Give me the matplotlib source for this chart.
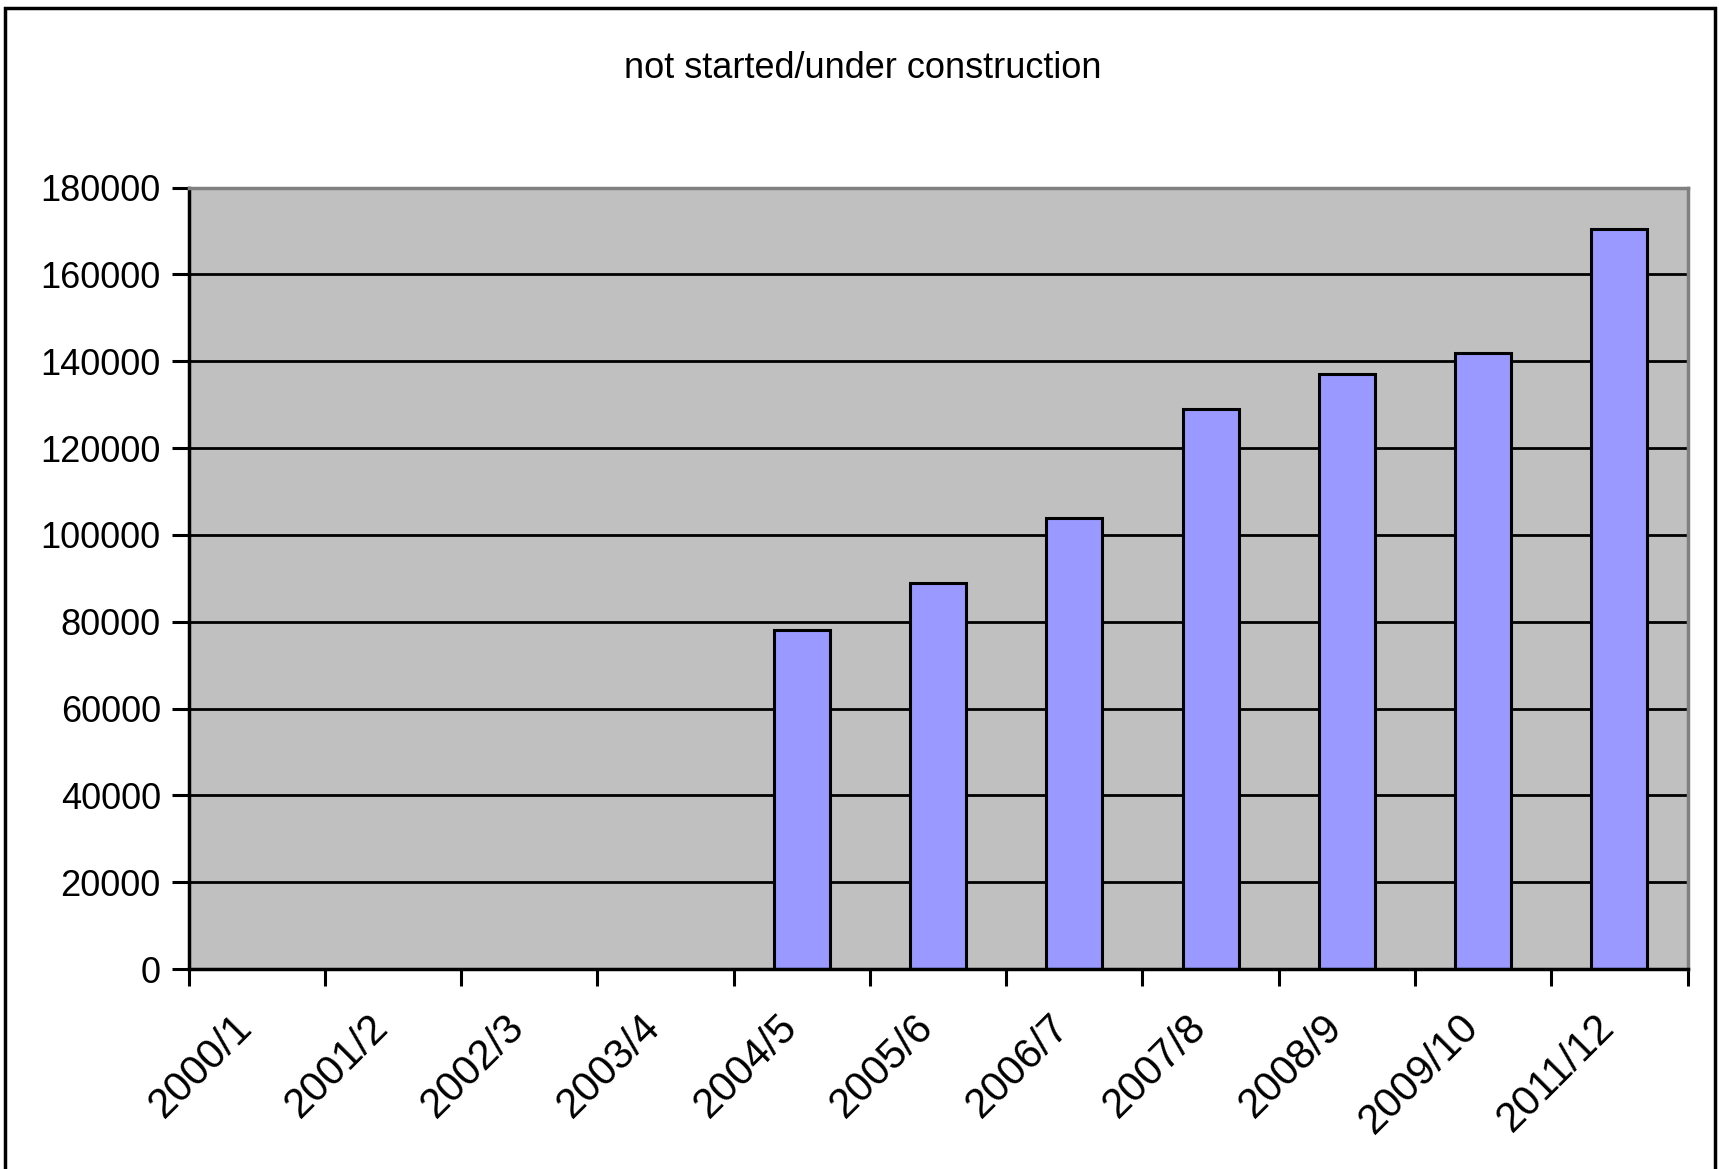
import matplotlib
matplotlib.use("Agg")
import matplotlib.pyplot as plt
import matplotlib.patches as mpatches
import matplotlib.transforms as mtransforms
import numpy as np

plt.rcParams['font.family'] = ['Liberation Sans', 'DejaVu Sans']

# chart data
years = ['2000/1', '2001/2', '2002/3', '2003/4', '2004/5', '2005/6',
         '2006/7', '2007/8', '2008/9', '2009/10', '2011/12']
counts = [None, None, None, None, 78000, 89000, 104000, 129000, 137000, 142000, 170400]
title = 'not started/under construction'
y_ticks = [0, 20000, 40000, 60000, 80000, 100000, 120000, 140000, 160000, 180000]

fig = plt.figure(figsize=(17.19, 11.69), dpi=100)
ax = fig.add_axes([0.1097, 0.171, 0.872, 0.6686])

x = np.arange(len(years))
shown = [i for i, v in enumerate(counts) if v is not None]
ax.bar([x[i] for i in shown], [counts[i] for i in shown], width=0.41,
       color='#9999FF', edgecolor='black', linewidth=2.2, zorder=3)

ax.set_facecolor('#C0C0C0')
ax.set_xlim(-0.5, len(years) - 0.5)
ax.set_ylim(0, 180000)

# gridlines (black, none at the top)
ax.set_yticks(y_ticks)
ax.set_yticklabels([str(v) for v in y_ticks], fontsize=26)
for v in y_ticks[1:-1]:
    ax.axhline(v, color='black', linewidth=2.0, zorder=1)

# category labels at centres, tick marks at boundaries
ax.set_xticks(x)
ax.set_xticklabels(years, fontsize=30, rotation=45, ha='right', rotation_mode='anchor')
ax.tick_params(axis='x', which='major', length=0, pad=27)
shift = mtransforms.ScaledTranslation(-0.25, 0, fig.dpi_scale_trans)
for lab in ax.get_xticklabels():
    lab.set_transform(lab.get_transform() + shift)
ax.set_xticks(np.arange(len(years) + 1) - 0.5, minor=True)
ax.tick_params(axis='x', which='minor', length=12, width=2.2, direction='out')
ax.tick_params(axis='y', length=12, width=2.2, direction='out', pad=8)

for side in ['left', 'bottom']:
    ax.spines[side].set_color('black')
    ax.spines[side].set_linewidth(2.5)
for side in ['top', 'right']:
    ax.spines[side].set_color('#808080')
    ax.spines[side].set_linewidth(2.5)
ax.spines['bottom'].set_zorder(4)

fig.text(0.502, 0.9415, title, fontsize=26, ha='center', va='center')

# outer chart frame
frame = mpatches.Rectangle((5 / 1719, -0.05), 1710 / 1719, 1.05 - 8 / 1169,
                           transform=fig.transFigure, fill=False,
                           edgecolor='black', linewidth=2.5, clip_on=False)
fig.patches.append(frame)

fig.savefig('out.png', dpi=100)
